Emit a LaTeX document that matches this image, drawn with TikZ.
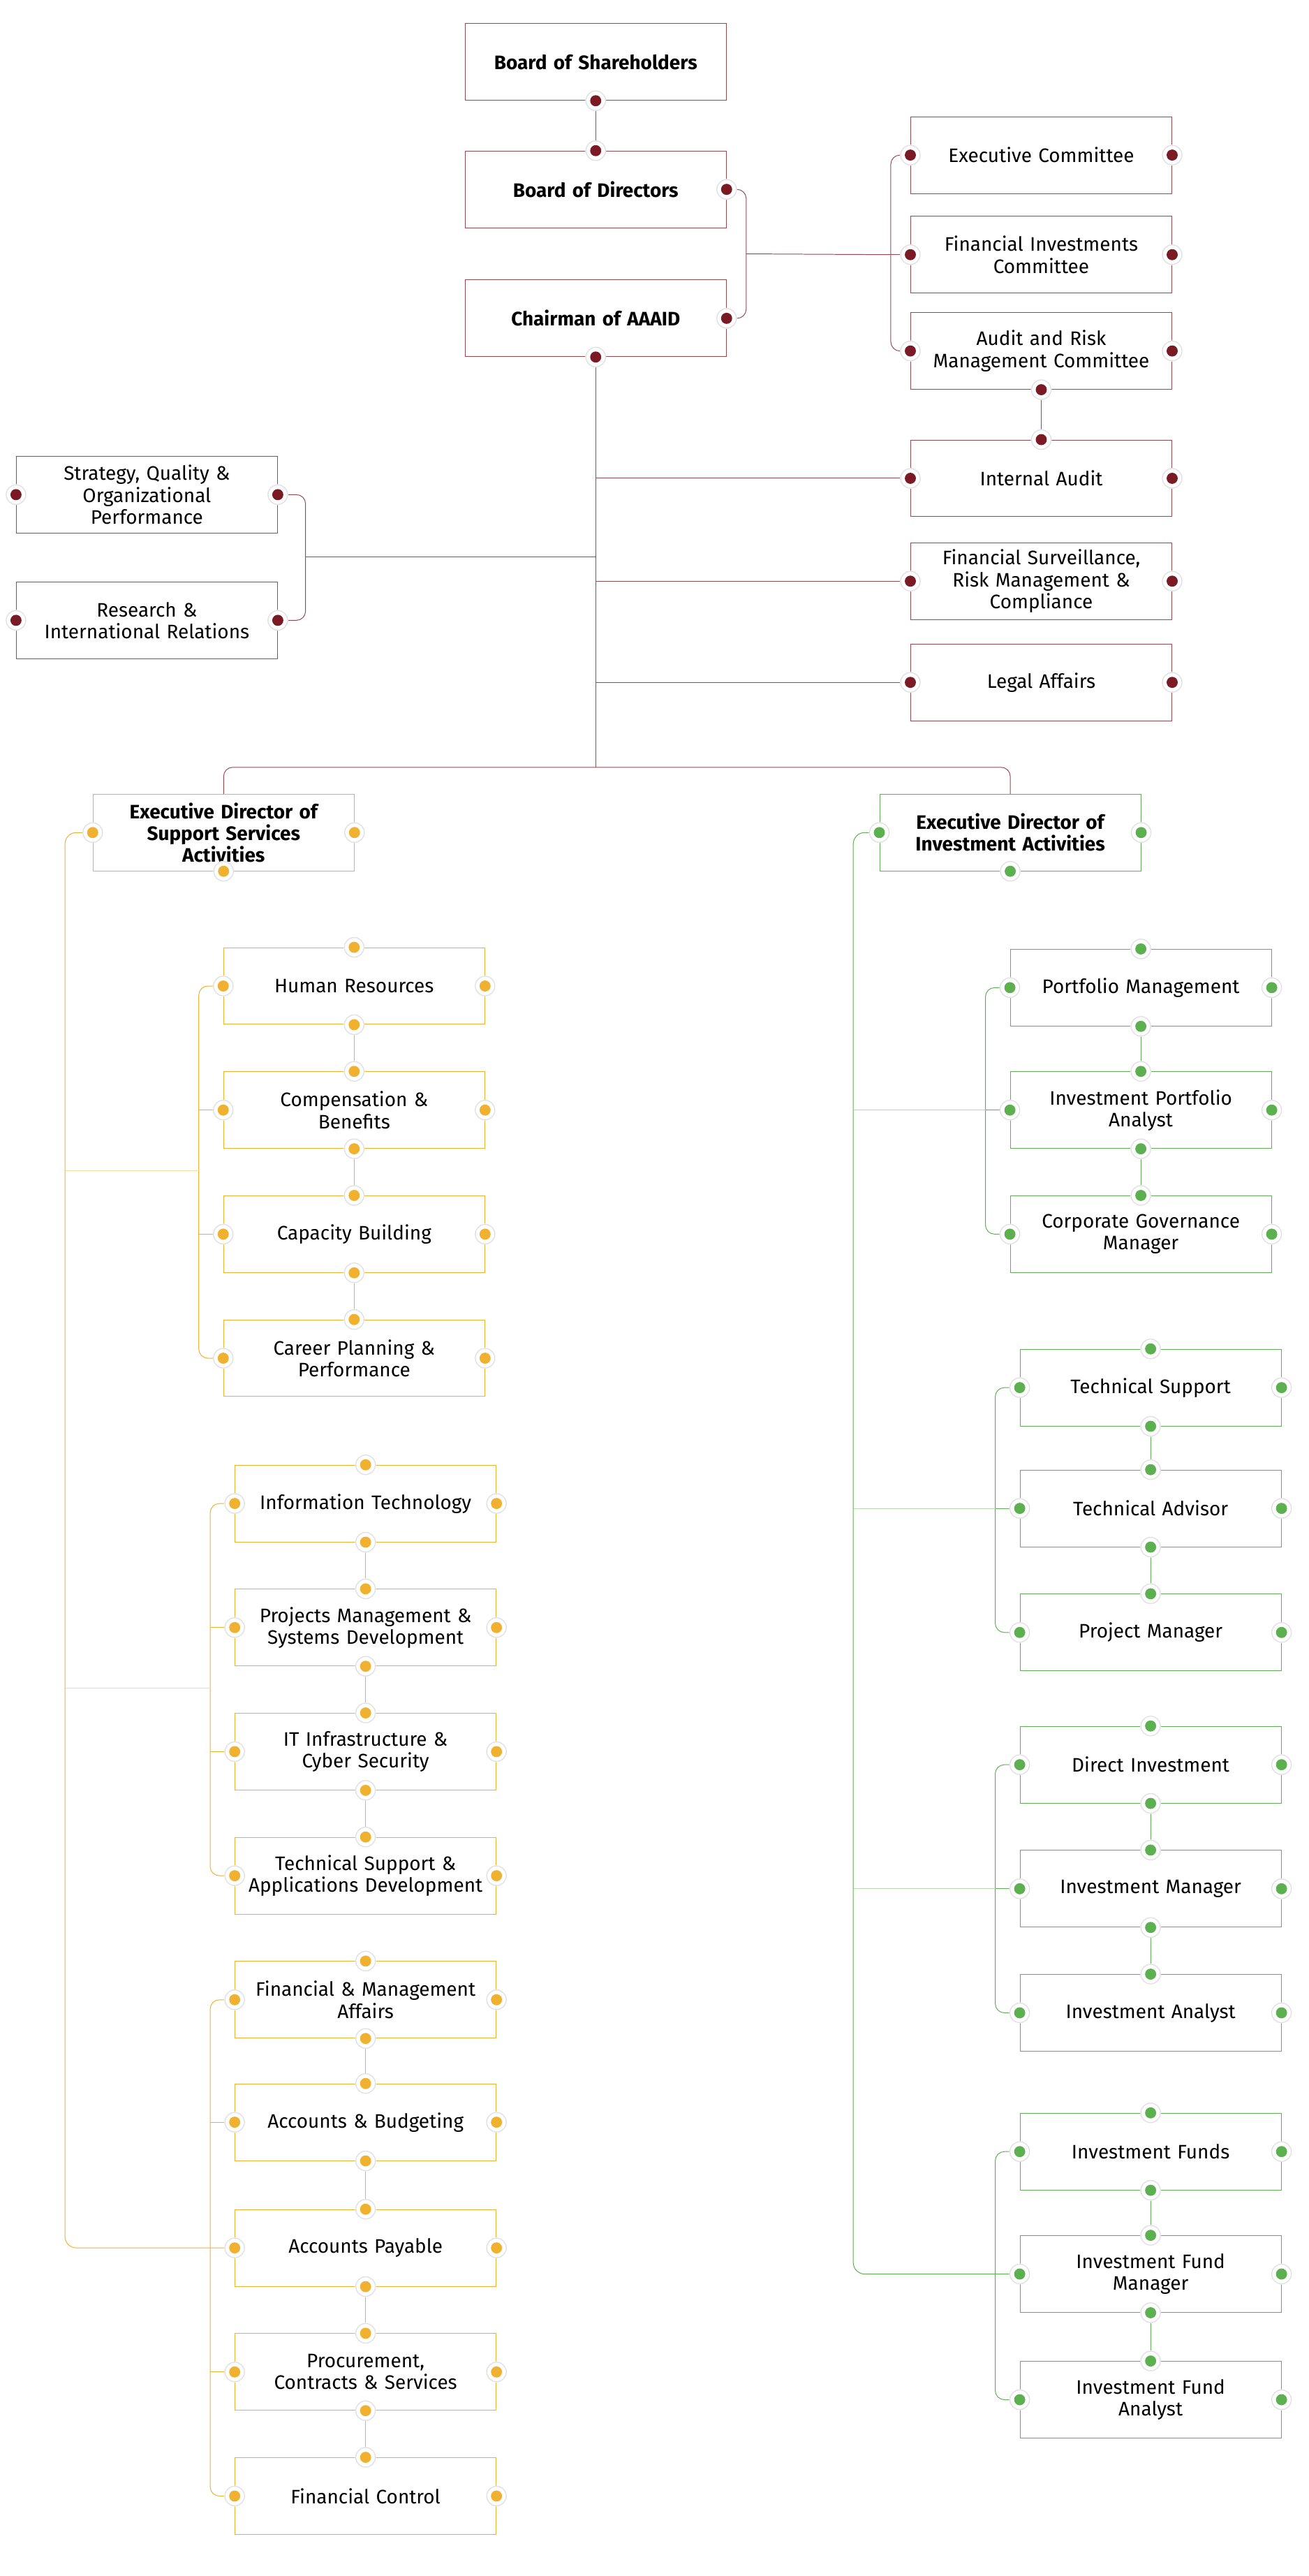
\documentclass[tikz,border=0pt]{standalone}
\usepackage{fontspec}
\setmainfont{Fira Sans}
\usetikzlibrary{positioning,calc,backgrounds}
\definecolor{brdColor}{HTML}{7A1A24}
\definecolor{supColor}{HTML}{F0B030}
\definecolor{invColor}{HTML}{5CB050}
\tikzset{
	unit box/.style={draw=#1, line width=0.6pt, fill=white, minimum width=8cm, minimum height=2.35cm,
		inner sep=2pt, align=center, text width=7.8cm, font=\fontsize{17}{19}\selectfont},
	board box/.style={unit box=brdColor!80},
	sup box/.style={unit box=supColor},
	inv box/.style={unit box=invColor},
	head box/.style={font=\fontsize{17}{19}\selectfont\bfseries},
	link/.style={draw=#1, line width=0.6pt},
	soft link/.style={draw=#1!45, line width=0.5pt},
}
\newcommand{\knob}[2]{\fill[white] (#2) circle (0.32cm); \draw[black!12, line width=0.8pt] (#2) circle (0.3cm); \fill[#1] (#2) circle (0.17cm);}
\begin{document}
\begin{tikzpicture}[x=0.05cm, y=-0.05cm]
	% board level
	\node[board box, head box] at (365,38)  (bos) {Board of Shareholders};
	\node[board box, head box] at (365,116) (bod) {Board of Directors};
	\node[board box, head box] at (365,195) (chair) {Chairman of AAAID};
	\node[board box] at (638,95)  (excom) {Executive Committee};
	\node[board box] at (638,156) (fincom) {Financial Investments\\Committee};
	\node[board box] at (638,215) (audcom) {Audit and Risk\\Management Committee};
	\node[board box] at (638,293) (intaud) {Internal Audit};
	\node[board box] at (638,356) (fsurv) {Financial Surveillance,\\Risk Management \&\\Compliance};
	\node[board box] at (638,418) (legal) {Legal Affairs};
	\node[board box] at (90,303) (strat) {Strategy, Quality \&\\Organizational\\Performance};
	\node[board box] at (90,380) (resrch) {Research \&\\International Relations};
	\node[sup box, head box] at (137,510) (eds) {Executive Director of\\Support Services\\Activities};
	\node[inv box, head box] at (619,510) (edi) {Executive Director of\\Investment Activities};
	% support services
	\node[sup box] at (217,604)  (hr)    {Human Resources};
	\node[sup box] at (217,680)  (comp)  {Compensation \&\\Benefits};
	\node[sup box] at (217,756)  (capb)  {Capacity Building};
	\node[sup box] at (217,832)  (career){Career Planning \&\\Performance};
	\node[sup box] at (224,921)  (it)    {Information Technology};
	\node[sup box] at (224,997)  (pmsd)  {Projects Management \&\\Systems Development};
	\node[sup box] at (224,1073) (itinf) {IT Infrastructure \&\\Cyber Security};
	\node[sup box] at (224,1149) (tsad)  {Technical Support \&\\Applications Development};
	\node[sup box] at (224,1225) (fma)   {Financial \& Management\\Affairs};
	\node[sup box] at (224,1300) (accb)  {Accounts \& Budgeting};
	\node[sup box] at (224,1377) (accp)  {Accounts Payable};
	\node[sup box] at (224,1453) (proc)  {Procurement,\\Contracts \& Services};
	\node[sup box] at (224,1529) (fctl)  {Financial Control};
	% investment activities
	\node[inv box] at (699,605)  (portm) {Portfolio Management};
	\node[inv box] at (699,680)  (ipa)   {Investment Portfolio\\Analyst};
	\node[inv box] at (699,756)  (cgm)   {Corporate Governance\\Manager};
	\node[inv box] at (705,850)  (tsup)  {Technical Support};
	\node[inv box] at (705,924)  (tadv)  {Technical Advisor};
	\node[inv box] at (705,1000) (pjm)   {Project Manager};
	\node[inv box] at (705,1081) (dinv)  {Direct Investment};
	\node[inv box] at (705,1157) (invm)  {Investment Manager};
	\node[inv box] at (705,1233) (inva)  {Investment Analyst};
	\node[inv box] at (705,1318) (ifun)  {Investment Funds};
	\node[inv box] at (705,1393) (ifm)   {Investment Fund\\Manager};
	\node[inv box] at (705,1470) (ifa)   {Investment Fund\\Analyst};
	\begin{scope}[on background layer]
	\fill[white] (0,0) rectangle (802,1578);
	% board links
	\draw[link=brdColor!80] (bos.south) -- (bod.north);
	\draw[link=brdColor!80, rounded corners=8] (bod.east) -- ++(12,0) |- (chair.east);
	\draw[link=brdColor!80] ($(bod.east)!0.5!(chair.east)+(12,0)$) coordinate (bj) -- (545,156) coordinate (cj);
	\draw[link=brdColor!80, rounded corners=8] (excom.west) -- ++(-12,0) |- (audcom.west);
	\draw[link=brdColor!80] (fincom.west) -- (cj);
	\draw[link=brdColor!80] (audcom.south) -- (intaud.north);
	\draw[link=brdColor!80] (chair.south) -- (365,470) coordinate (hub);
	\foreach \n in {intaud,fsurv,legal}
		\draw[link=brdColor!80] (\n.west) -- (\n.west -| hub);
	\draw[link=brdColor!80, rounded corners=8] (strat.east) -- ++(17,0) |- (resrch.east);
	\draw[link=brdColor!80] (187,341) coordinate (sj) -- (sj -| hub);
	\draw[link=brdColor!80, rounded corners=8] (eds.north) |- (hub) -| (edi.north);
	% support links
	\draw[link=supColor, rounded corners=10] (eds.west) -- ++(-17,0) |- (accp.west);
	\draw[link=supColor, rounded corners=8] (hr.west) -- ++(-15,0) |- (career.west);
	\draw[link=supColor, rounded corners=8] (it.west) -- ++(-15,0) |- (tsad.west);
	\draw[link=supColor, rounded corners=8] (fma.west) -- ++(-15,0) |- (fctl.west);
	\foreach \n in {comp,capb,pmsd,itinf,accb,proc}
		\draw[link=supColor] (\n.west) -- ++(-15,0);
	\draw[soft link=supColor] (40,717) -- (122,717);
	\draw[soft link=supColor] (40,1034) -- (129,1034);
	\foreach \a/\b in {hr/comp,comp/capb,capb/career,it/pmsd,pmsd/itinf,itinf/tsad,fma/accb,accb/accp,accp/proc,proc/fctl}
		\draw[link=supColor] (\a.south) -- (\b.north);
	% investment links
	\draw[link=invColor, rounded corners=10] (edi.west) -- ++(-16,0) |- (ifm.west);
	\draw[link=invColor, rounded corners=8] (portm.west) -- ++(-15,0) |- (cgm.west);
	\draw[link=invColor, rounded corners=8] (tsup.west) -- ++(-15,0) |- (pjm.west);
	\draw[link=invColor, rounded corners=8] (dinv.west) -- ++(-15,0) |- (inva.west);
	\draw[link=invColor, rounded corners=8] (ifun.west) -- ++(-15,0) |- (ifa.west);
	\foreach \n in {ipa,tadv,invm}
		\draw[link=invColor] (\n.west) -- ++(-15,0);
	\draw[soft link=invColor] (523,680) -- (604,680);
	\draw[soft link=invColor] (523,924) -- (610,924);
	\draw[soft link=invColor] (523,1157) -- (610,1157);
	\foreach \a/\b in {portm/ipa,ipa/cgm,tsup/tadv,tadv/pjm,dinv/invm,invm/inva,ifun/ifm,ifm/ifa}
		\draw[link=invColor] (\a.south) -- (\b.north);
	\end{scope}
	% knobs
	\knob{brdColor}{bos.south}
	\knob{brdColor}{bod.north} \knob{brdColor}{bod.east}
	\knob{brdColor}{chair.east} \knob{brdColor}{chair.south}
	\foreach \n in {excom,fincom,audcom,intaud,fsurv,legal,strat,resrch}
		{\knob{brdColor}{\n.west} \knob{brdColor}{\n.east}}
	\knob{brdColor}{audcom.south} \knob{brdColor}{intaud.north}
	\foreach \n in {eds,hr,comp,capb,career,it,pmsd,itinf,tsad,fma,accb,accp,proc,fctl}
		{\knob{supColor}{\n.west} \knob{supColor}{\n.east}}
	\foreach \n in {hr,comp,capb,career,it,pmsd,itinf,tsad,fma,accb,accp,proc,fctl}
		{\knob{supColor}{\n.north}}
	\foreach \n in {eds,hr,comp,capb,it,pmsd,itinf,fma,accb,accp,proc}
		{\knob{supColor}{\n.south}}
	\foreach \n in {edi,portm,ipa,cgm,tsup,tadv,pjm,dinv,invm,inva,ifun,ifm,ifa}
		{\knob{invColor}{\n.west} \knob{invColor}{\n.east}}
	\foreach \n in {portm,ipa,cgm,tsup,tadv,pjm,dinv,invm,inva,ifun,ifm,ifa}
		{\knob{invColor}{\n.north}}
	\foreach \n in {edi,portm,ipa,tsup,tadv,dinv,invm,ifun,ifm}
		{\knob{invColor}{\n.south}}
\end{tikzpicture}
\end{document}
